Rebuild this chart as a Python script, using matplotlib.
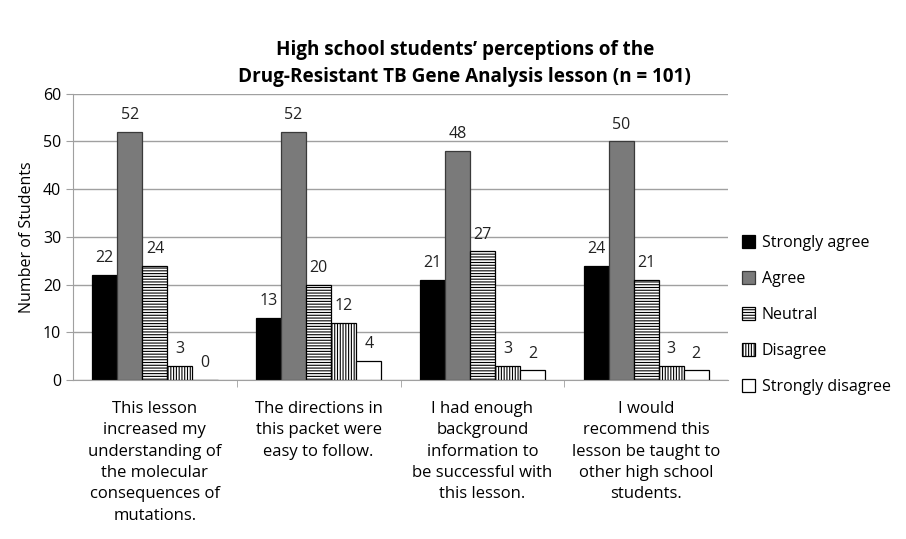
import matplotlib
matplotlib.use("Agg")
import matplotlib.pyplot as plt
import numpy as np

plt.rcParams['font.family'] = ['Open Sans', 'DejaVu Sans']
plt.rcParams['hatch.linewidth'] = 0.8

categories = [
    "This lesson\nincreased my\nunderstanding of\nthe molecular\nconsequences of\nmutations.",
    "The directions in\nthis packet were\neasy to follow.",
    "I had enough\nbackground\ninformation to\nbe successful with\nthis lesson.",
    "I would\nrecommend this\nlesson be taught to\nother high school\nstudents.",
]
series_names = ["Strongly agree", "Agree", "Neutral", "Disagree", "Strongly disagree"]
strongly_agree = [22, 13, 21, 24]
agree = [52, 52, 48, 50]
neutral = [24, 20, 27, 21]
disagree = [3, 12, 3, 3]
strongly_disagree = [0, 4, 2, 2]
values = [strongly_agree, agree, neutral, disagree, strongly_disagree]
yticks = [0, 10, 20, 30, 40, 50, 60]

styles = [
    dict(facecolor="black", edgecolor="black", hatch=None),
    dict(facecolor="#7a7a7a", edgecolor="#3a3a3a", hatch=None),
    dict(facecolor="white", edgecolor="black", hatch="------"),
    dict(facecolor="white", edgecolor="black", hatch="||||||"),
    dict(facecolor="white", edgecolor="black", hatch=None),
]

fig = plt.figure(figsize=(9.06, 5.39), dpi=100)
ax = fig.add_axes([0.0806, 0.295, 0.723, 0.531])

x = np.arange(len(categories))
w = 0.153
for i, (name, vals, st) in enumerate(zip(series_names, values, styles)):
    pos = x + (i - 2) * w
    bars = ax.bar(pos, vals, width=w, label=name, linewidth=0.9, **st)
    for p, v in zip(pos, vals):
        ax.text(p, v + 1.8, str(v), ha="center", va="bottom", fontsize=11.5, color="#222222")

ax.set_xlim(-0.5, len(categories) - 0.5)
ax.set_ylim(0, 60)
ax.set_yticks(yticks)
ax.set_yticklabels([str(t) for t in yticks], fontsize=11.5)
ax.yaxis.grid(True, color="#a0a0a0", linewidth=1.0)
ax.set_axisbelow(True)
ax.set_xticks(x)
ax.set_xticklabels(categories, fontsize=12, linespacing=1.45, va="top")
ax.tick_params(axis="x", length=0, pad=15)
ax.set_xticks(np.arange(0.5, len(categories) - 0.5, 1), minor=True)
ax.tick_params(axis="x", which="minor", length=5, color="#a0a0a0")
ax.tick_params(axis="y", length=5, color="#a0a0a0")
for s in ["top", "right"]:
    ax.spines[s].set_visible(False)
ax.spines["left"].set_color("#a0a0a0")
ax.spines["bottom"].set_color("#a0a0a0")
ax.set_ylabel("Number of Students", fontsize=11.5, labelpad=6)

fig.suptitle("High school students\u2019 perceptions of the\nDrug-Resistant TB Gene Analysis lesson (n = 101)",
             x=0.513, y=0.925, fontsize=13.6, fontweight="bold", linespacing=1.45)

leg = ax.legend(loc="center left", bbox_to_anchor=(1.0, 0.227), frameon=False,
                fontsize=11.5, handlelength=0.8, handleheight=0.8, handletextpad=0.4,
                labelspacing=1.25)

fig.savefig("out.png", dpi=100)
